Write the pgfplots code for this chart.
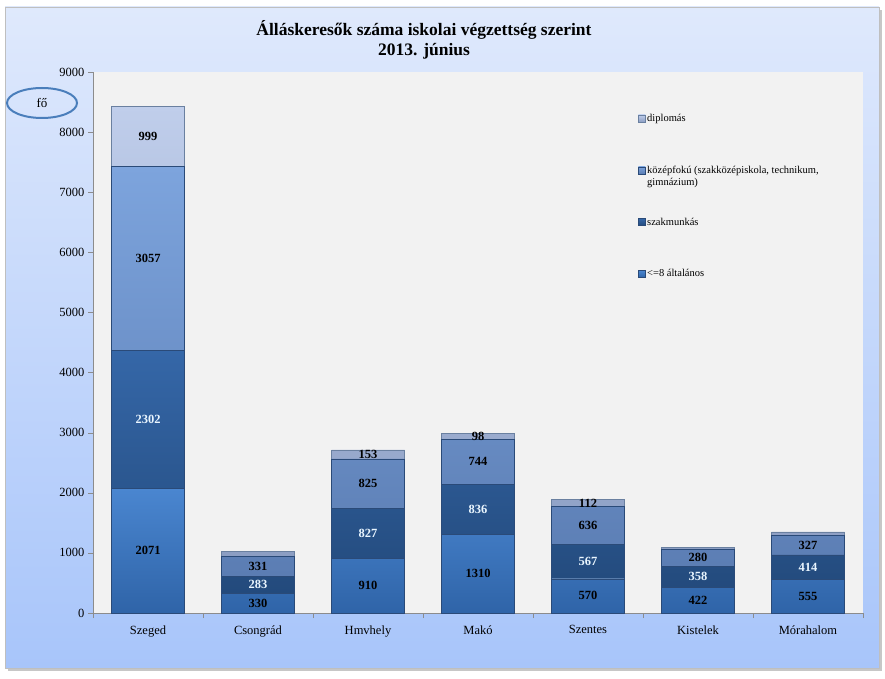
\documentclass[border=0pt]{standalone}
\usepackage{pgfplots}
\pgfplotsset{compat=1.18}
\usepackage{pgfplotstable}
\usepackage{fontspec}
\setmainfont{Liberation Serif}

\definecolor{bgtop}{HTML}{DFE9FC}
\definecolor{bgbot}{HTML}{A8C5FA}
\definecolor{plotbg}{HTML}{F2F2F2}
\definecolor{aTop}{HTML}{4A86D0}
\definecolor{aBot}{HTML}{2F64A8}
\definecolor{bTop}{HTML}{3567A8}
\definecolor{bBot}{HTML}{234A7C}
\definecolor{cTop}{HTML}{7DA4DD}
\definecolor{cBot}{HTML}{5B7DB3}
\definecolor{dTop}{HTML}{C0CEEB}
\definecolor{dBot}{HTML}{8C9EC3}
\definecolor{edge}{HTML}{2A4A78}
\definecolor{ring}{HTML}{4A7EBB}
\definecolor{lightlab}{HTML}{EAF6FF}

% a: <=8 altalanos, b: szakmunkas, c: kozepfoku, d: diplomas; ld: felirat
\pgfplotstableread{
idx a b c d ld
0 2071 2302 3057 999 999
1 330 283 331 80 {}
2 910 827 825 153 153
3 1310 836 744 98 98
4 570 567 636 112 112
5 422 358 280 30 {}
6 555 414 327 55 {}
}\adat

\begin{document}
\begin{tikzpicture}
\path[use as bounding box] (0pt,0pt) rectangle (885pt,678pt);
\fill[black!22] (8pt,7pt) rectangle (882pt,668pt);
\shade[top color=bgtop, bottom color=bgbot, draw=black!25] (5pt,10pt) rectangle (879pt,671pt);

\node[font=\bfseries\fontsize{17.5}{19}\selectfont] at (424pt,648pt) {Álláskeresők száma iskolai végzettség szerint};
\node[font=\bfseries\fontsize{17.5}{19}\selectfont] at (424pt,627pt) {2013. június};

\begin{axis}[
  at={(93pt,65pt)}, anchor=south west,
  scale only axis, width=770pt, height=541pt,
  ybar stacked, bar width=73pt,
  xmin=-0.5, xmax=6.5, ymin=0, ymax=9000,
  ytick={0,1000,...,9000},
  scaled ticks=false,
  /pgf/number format/1000 sep={},
  /pgf/number format/assume math mode=true,
  xtick=data,
  xticklabels={Szeged,Csongrád,Hmvhely,Makó,Szentes,Kistelek,Mórahalom},
  minor xtick={-0.5,0.5,...,6.5},
  major x tick style={draw=none},
  minor x tick style={black!45},
  ytick style={black!45},
  tick align=outside,
  major tick length=5pt, minor tick length=5pt,
  axis x line*=bottom, axis y line*=left,
  axis line style={-, black!45},
  axis background/.style={fill=plotbg},
  ticklabel style={font=\fontsize{12.5}{12.5}\selectfont},
  xticklabel style={yshift=-4pt},
  clip=false,
  point meta=explicit symbolic,
  nodes near coords,
  nodes near coords style={font=\bfseries\fontsize{12.5}{12.5}\selectfont},
  every node near coord/.append style={anchor=center},
  legend image code/.code={\path[#1] (0pt,-3.5pt) rectangle (7pt,3.5pt);},
  reverse legend,
  legend cell align=left,
  legend style={at={(rel axis cs:0.704,0.93)}, anchor=north west,
    draw=none, fill=none, row sep=39pt,
    font=\fontsize{10.5}{12.5}\selectfont,
    nodes={inner xsep=1.5pt},
    /tikz/every odd column/.append style={column sep=0pt}},
]
\addplot[draw=edge, top color=aTop, bottom color=aBot,
  every node near coord/.append style={text=black}]
  table[x=idx, y=a, meta=a] {\adat};
\addplot[draw=edge, top color=bTop, bottom color=bBot,
  every node near coord/.append style={text=lightlab}]
  table[x=idx, y=b, meta=b] {\adat};
\addplot[draw=edge, top color=cTop, bottom color=cBot,
  every node near coord/.append style={text=black}]
  table[x=idx, y=c, meta=c] {\adat};
\addplot[draw=edge!70, top color=dTop, bottom color=dBot,
  every node near coord/.append style={text=black}]
  table[x=idx, y=d, meta=ld] {\adat};
\legend{{<=8 általános},szakmunkás,
  {\raisebox{0pt}[\height][0pt]{\parbox[t]{200pt}{középfokú (szakközépiskola, technikum,\\gimnázium)}}},
  diplomás}
\end{axis}

\draw[ring, line width=2pt] (42pt,575pt) ellipse (35pt and 15pt);
\node[font=\fontsize{13}{13}\selectfont] at (42pt,575pt) {fő};
\end{tikzpicture}
\end{document}
